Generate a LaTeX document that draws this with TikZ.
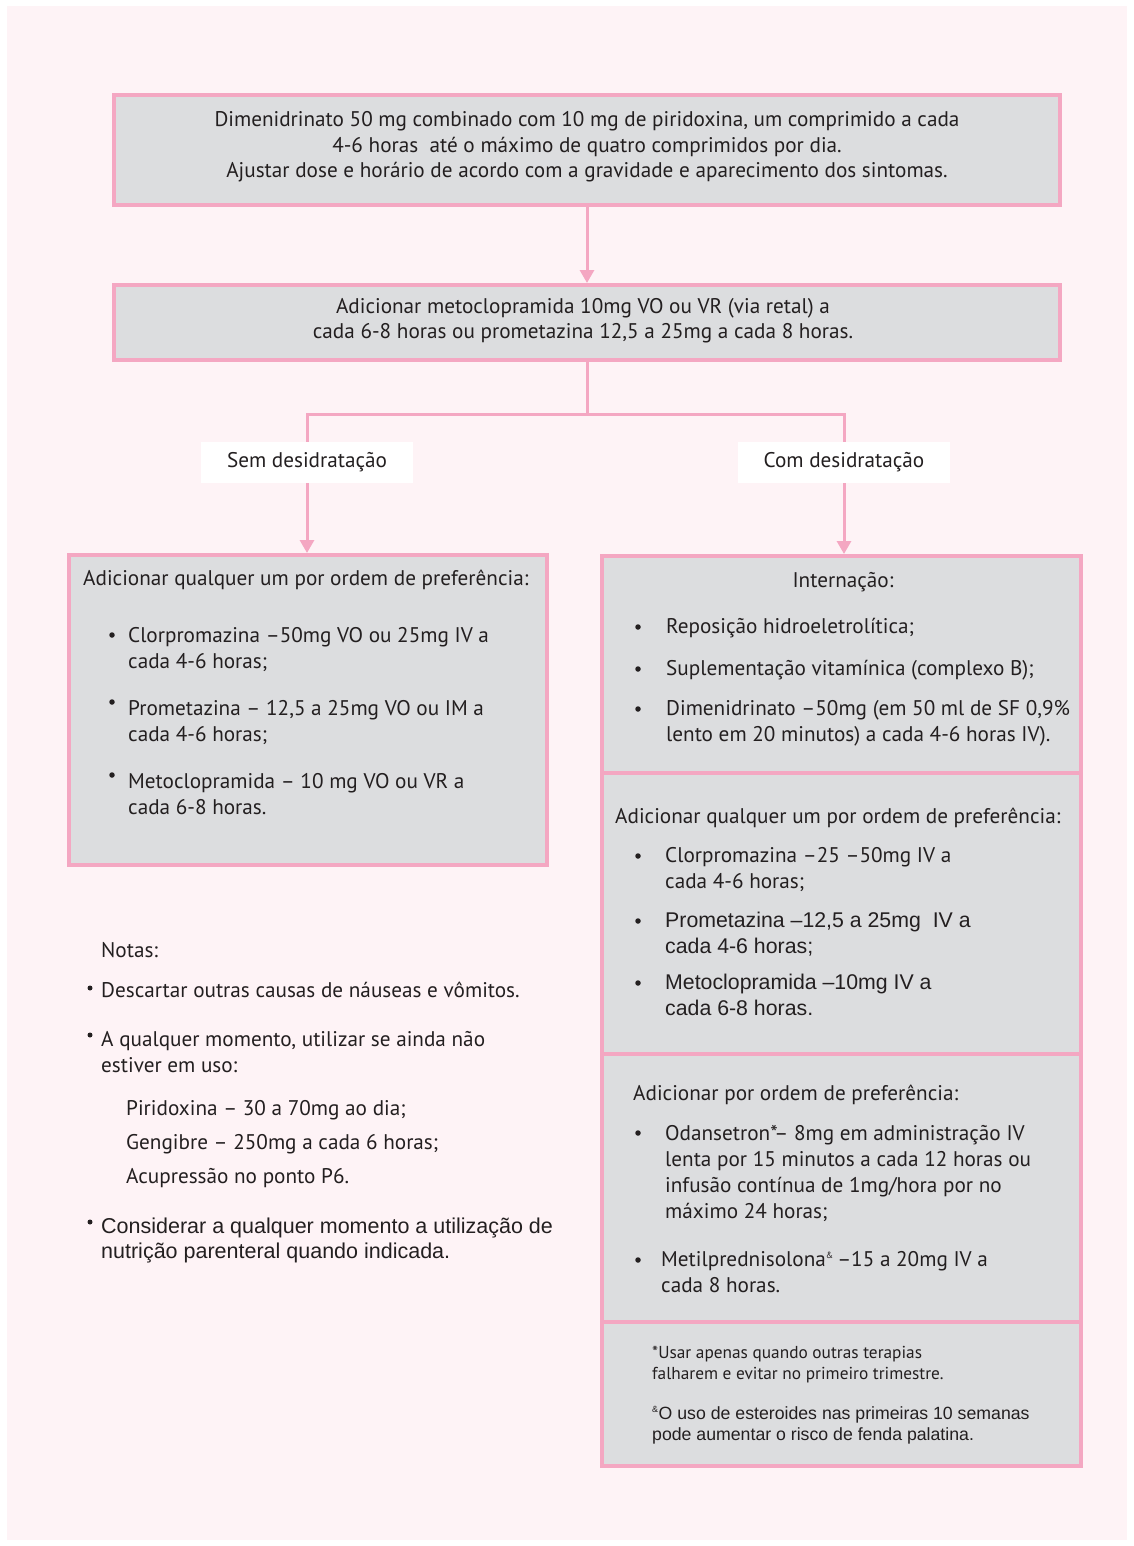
\documentclass[tikz,border=0pt]{standalone}
\usepackage{fontspec}
\setmainfont{PT Sans}
\newfontfamily\arialf{Liberation Sans}
\usetikzlibrary{arrows.meta}

\definecolor{bgpink}{HTML}{FEF3F6}
\definecolor{rim}{HTML}{F4A7C2}
\definecolor{boxgray}{HTML}{DCDDDF}
\definecolor{ink}{HTML}{231F20}

\newcommand\bodysz{\fontsize{21.2}{26}\selectfont}
\newcommand\arialsz{\arialf\fontsize{21.3}{26}\selectfont}
\newcommand\notesz{\fontsize{17.3}{21}\selectfont}
\newcommand\arialnotesz{\arialf\fontsize{17.7}{21}\selectfont}
\newcommand\supamp{\textsuperscript{\fontsize{9}{9}\selectfont\&}}

\begin{document}
\begin{tikzpicture}[x=1pt,y=-1pt,
  panel/.style={draw=rim, line width=4pt, fill=boxgray, rectangle, inner sep=0pt},
  tag/.style={fill=white, inner sep=0pt, minimum width=212, minimum height=41, font=\bodysz, text=ink},
  txt/.style={inner sep=0pt, anchor=base west, align=left, font=\bodysz, text=ink},
  dot/.style={circle, fill=ink, inner sep=0pt, minimum size=5.5pt},
  link/.style={draw=rim, line width=3pt},
  flow/.style={link, -{Triangle[width=14pt,length=13pt]}}]

% page background
\useasboundingbox (0,0) rectangle (1134,1546);
\fill[white] (0,0) rectangle (1134,1546);
\fill[bgpink] (7,6) rectangle (1127,1540);

% boxes
\node[panel, minimum width=946, minimum height=110] (dose) at (587,150) {};
\node[panel, minimum width=946, minimum height=75] (meto) at (587,322.5) {};
\node[tag] (sem) at (307,462.5) {Sem desidratação};
\node[tag] (com) at (844,462.5) {Com desidratação};
\node[panel, minimum width=478, minimum height=310] (leve) at (308,710) {};
\node[panel, minimum width=479, minimum height=217] (intern) at (841.5,664.5) {};
\node[panel, minimum width=479, minimum height=281] (grave) at (841.5,913.5) {};
\node[panel, minimum width=479, minimum height=268] (refrat) at (841.5,1188) {};
\node[panel, minimum width=479, minimum height=144] (rodape) at (841.5,1394) {};

% connectors
\coordinate (split) at (587,414);
\draw[flow] (dose.south) -- (meto.north);
\draw[link] (meto.south) -- (split);
\draw[link] (sem.north) |- (split) -| (com.north);
\draw[flow] (sem.south) -- (sem.south |- leve.north);
\draw[flow] (com.south) -- (com.south |- intern.north);

% first-line treatment (multi-line nodes sit on their last baseline)
\node[txt, anchor=base, align=center, font=\fontsize{21.2}{25.5}\selectfont] (dosetxt) at (587,178)
  {Dimenidrinato 50 mg combinado com 10 mg de piridoxina, um comprimido a cada\\
   4-6 horas\ \ até o máximo de quatro comprimidos por dia.\\
   Ajustar dose e horário de acordo com a gravidade e aparecimento dos sintomas.};
\node[txt, anchor=base, align=center, font=\fontsize{21.2}{25}\selectfont] (metotxt) at (583,338)
  {Adicionar metoclopramida 10mg VO ou VR (via retal) a\\
   cada 6-8 horas ou prometazina 12,5 a 25mg a cada 8 horas.};

% without dehydration
\node[txt] (levehead) at (83,585) {Adicionar qualquer um por ordem de preferência:};
\node[dot] (ld1) at (112,635) {};
\node[txt] (l1) at (128,668) {Clorpromazina –50mg VO ou 25mg IV a\\cada 4-6 horas;};
\node[dot] (ld2) at (112,702) {};
\node[txt] (l2) at (128,741) {Prometazina – 12,5 a 25mg VO ou IM a\\cada 4-6 horas;};
\node[dot] (ld3) at (112,775) {};
\node[txt] (l3) at (128,814) {Metoclopramida – 10 mg VO ou VR a\\cada 6-8 horas.};

% with dehydration: admission
\node[txt, anchor=base] (interhead) at (843,587) {Internação:};
\node[dot] (id1) at (638,627) {};
\node[txt] (i1) at (666,633) {Reposição hidroeletrolítica;};
\node[dot] (id2) at (638,669) {};
\node[txt] (i2) at (666,675) {Suplementação vitamínica (complexo B);};
\node[dot] (id3) at (638,709) {};
\node[txt] (i3) at (666,741) {Dimenidrinato –50mg (em 50 ml de SF 0,9\%\\lento em 20 minutos) a cada 4-6 horas IV).};

% with dehydration: added drugs
\node[txt] (gravehead) at (615,823) {Adicionar qualquer um por ordem de preferência:};
\node[dot] (gd1) at (638,856) {};
\node[txt] (g1) at (665,888) {Clorpromazina –25 –50mg IV a\\cada 4-6 horas;};
\node[dot] (gd2) at (638,921) {};
\node[txt, font=\arialsz] (g2) at (665,953) {Prometazina –12,5 a 25mg\ \ IV a\\cada 4-6 horas;};
\node[dot] (gd3) at (638,983) {};
\node[txt, font=\arialsz] (g3) at (665,1015) {Metoclopramida –10mg IV a\\cada 6-8 horas.};

% refractory cases
\node[txt] (refrathead) at (633,1100) {Adicionar por ordem de preferência:};
\node[dot] (rd1) at (638,1133) {};
\node[txt] (r1) at (665,1218) {Odansetron*– 8mg em administração IV\\lenta por 15 minutos a cada 12 horas ou\\infusão contínua de 1mg/hora por no\\máximo 24 horas;};
\node[dot] (rd2) at (638,1260) {};
\node[txt] (r2) at (661,1292) {Metilprednisolona\supamp\,–15 a 20mg IV a\\cada 8 horas.};

% footnotes
\node[txt, font=\notesz] (fn1) at (652,1379) {*Usar apenas quando outras terapias\\falharem e evitar no primeiro trimestre.};
\node[txt, font=\arialnotesz] (fn2) at (652,1440) {\supamp O uso de esteroides nas primeiras 10 semanas\\pode aumentar o risco de fenda palatina.};

% notes
\node[txt] (notas) at (101,957) {Notas:};
\node[dot, minimum size=5pt] (nd1) at (90,988) {};
\node[txt] (n1) at (101,997) {Descartar outras causas de náuseas e vômitos.};
\node[dot, minimum size=5pt] (nd2) at (90,1035) {};
\node[txt] (n2) at (101,1072) {A qualquer momento, utilizar se ainda não\\estiver em uso:};
\node[txt, font=\fontsize{21.2}{34}\selectfont] (n2sub) at (126,1183) {Piridoxina – 30 a 70mg ao dia;\\Gengibre – 250mg a cada 6 horas;\\Acupressão no ponto P6.};
\node[dot, minimum size=5pt] (nd3) at (90,1222) {};
\node[txt, font=\arialf\fontsize{21.5}{25}\selectfont] (n3) at (101,1258) {Considerar a qualquer momento a utilização de\\nutrição parenteral quando indicada.};

\end{tikzpicture}
\end{document}
